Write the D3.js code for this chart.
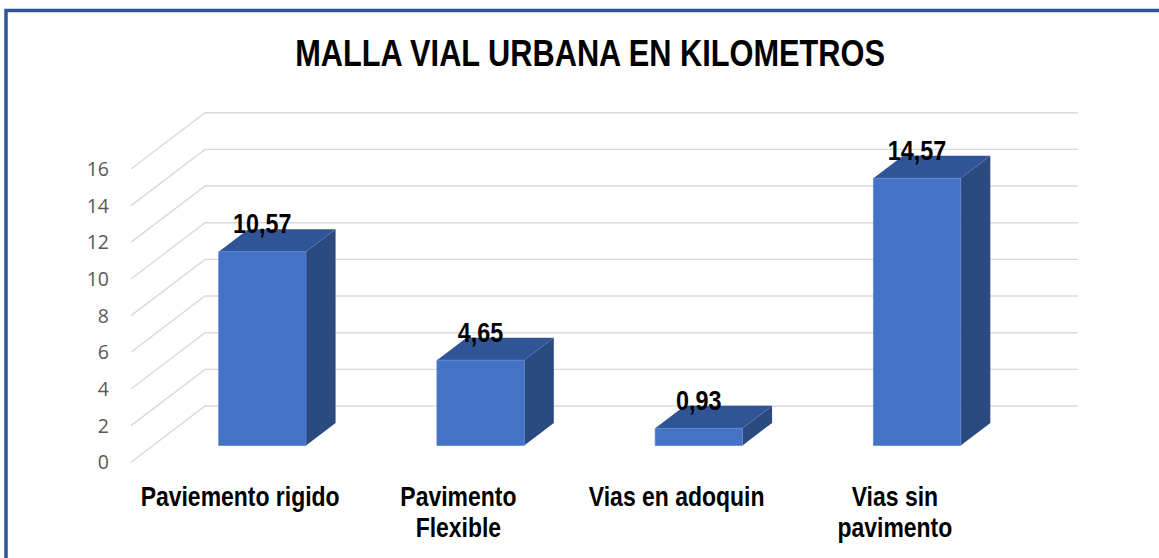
<!DOCTYPE html>
<html>
<head>
<meta charset="utf-8">
<script src="https://cdn.jsdelivr.net/npm/d3@7/dist/d3.min.js"></script>
<style>
  html, body { margin: 0; padding: 0; background: #fff; }
  svg { display: block; }
  .narrow { font-family: "Liberation Sans", Arial, sans-serif; font-weight: bold; fill: #000; }
</style>
</head>
<body>
<svg id="chart" width="1159" height="558"></svg>
<script>
// Data
const title = "MALLA VIAL URBANA EN KILOMETROS";
const categories = ["Paviemento rigido", "Pavimento\nFlexible", "Vias en adoquin", "Vias sin\npavimento"];
const values = [10.57, 4.65, 0.93, 14.57];
const tickValues = [0, 2, 4, 6, 8, 10, 12, 14, 16];

const svg = d3.select("#chart");
const W = 1159, H = 558;
const condense = 0.82; // horizontal squeeze to mimic a narrow bold face

// Bold condensed text placed at (px, py)
function narrowText(g, px, py, size, str) {
  return g.append("text").attr("class", "narrow")
    .attr("transform", `translate(${px},${py}) scale(${condense},1)`)
    .attr("text-anchor", "middle")
    .attr("font-size", size)
    .text(str);
}

// Frame
svg.append("rect").attr("x", 6).attr("y", 10.5).attr("width", W + 10).attr("height", H + 10)
  .attr("fill", "none").attr("stroke", "#2F5597").attr("stroke-width", 3.5);

// Plot geometry: front plane + depth projection
const x = d3.scaleBand().domain(categories).range([131, 1004]).paddingInner(0.6).paddingOuter(0.3);
const y = d3.scaleLinear().domain([0, 16]).range([462.3, 169]);
const depth = { dx: 74, dy: -56.3 };
const proj = (px, py, t) => [px + t * depth.dx, py + t * depth.dy];
const barDepth = [0.30, 0.70];

// Gridlines: side wall diagonals and back wall horizontals
const grid = svg.append("g").attr("stroke", "#D9D9D9").attr("stroke-width", 1.4).attr("fill", "none");
const xStart = x.range()[0], xEnd = x.range()[1];
tickValues.forEach(v => {
  const f = proj(xStart, y(v), 0);
  const b = proj(xStart, y(v), 1);
  const e = proj(xEnd, y(v), 1);
  grid.append("polyline").attr("points", [f, b, e].map(p => p.join(",")).join(" "));
});

// Value axis labels
svg.append("g").selectAll("text").data(tickValues).join("text")
  .attr("x", 109).attr("y", d => y(d))
  .attr("dy", "0.36em")
  .attr("text-anchor", "end")
  .attr("font-family", "'Open Sans', sans-serif")
  .attr("font-size", 19.5)
  .attr("fill", "#595959")
  .text(d => d);

// 3D columns
const bars = svg.append("g");
categories.forEach((c, i) => {
  const v = values[i];
  const x0 = x(c), x1 = x(c) + x.bandwidth();
  const t0 = barDepth[0], t1 = barDepth[1];
  const fTL = proj(x0, y(v), t0), fTR = proj(x1, y(v), t0);
  const fBL = proj(x0, y(0), t0), fBR = proj(x1, y(0), t0);
  const bTL = proj(x0, y(v), t1), bTR = proj(x1, y(v), t1);
  const bBR = proj(x1, y(0), t1);
  const pts = a => a.map(p => p.join(",")).join(" ");
  bars.append("polygon").attr("points", pts([fTR, bTR, bBR, fBR])).attr("fill", "#2B4A80");
  bars.append("polygon").attr("points", pts([fTL, bTL, bTR, fTR])).attr("fill", "#2F5597");
  bars.append("polygon").attr("points", pts([fTL, fTR, fBR, fBL])).attr("fill", "#4472C4")
    .attr("stroke", "#5B86D3").attr("stroke-width", 0.8);
});

// Data labels
const locale = d3.formatLocale({ decimal: ",", thousands: ".", grouping: [3], currency: ["", ""] });
const fmt = locale.format(".2f");
const labelG = svg.append("g");
categories.forEach((c, i) => {
  const lx = proj(x(c) + x.bandwidth() / 2, 0, barDepth[0])[0];
  const ly = proj(0, y(values[i]), barDepth[1])[1] + 4;
  narrowText(labelG, lx, ly, 28.5, fmt(values[i]));
});

// Category labels
const catG = svg.append("g");
categories.forEach(c => {
  const cx = x(c) + x.bandwidth() / 2;
  c.split("\n").forEach((line, j) => narrowText(catG, cx, 506 + j * 31, 28, line));
});

// Title
narrowText(svg, 590, 66, 37.5, title);
</script>
</body>
</html>
